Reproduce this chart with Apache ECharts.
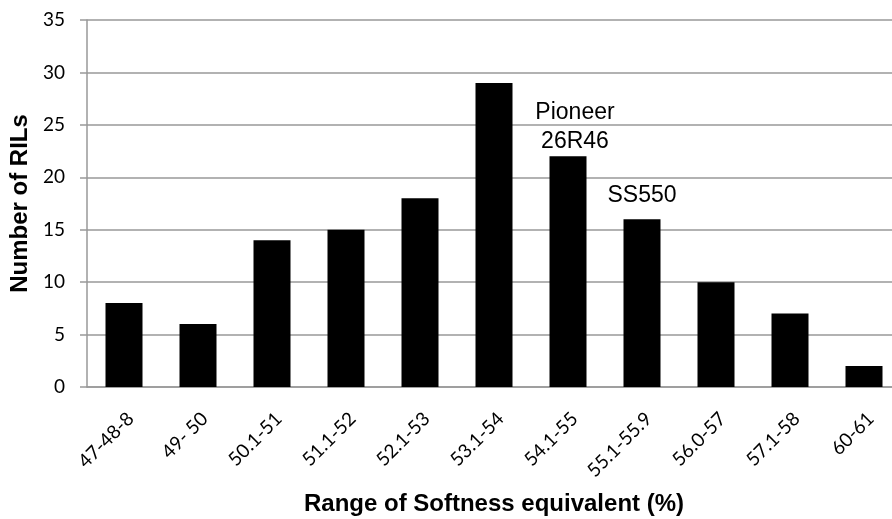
<!DOCTYPE html>
<html>
<head>
<meta charset="utf-8">
<script src="https://cdn.jsdelivr.net/npm/echarts@6/dist/echarts.min.js"></script>
<style>
  html, body { margin: 0; padding: 0; background: #fff; }
  #chart { width: 892px; height: 519px; }
</style>
</head>
<body>
<div id="chart"></div>
<script>
// categories and counts
var categories = ["47-48-8", "49- 50", "50.1-51", "51.1-52", "52.1-53", "53.1-54",
                  "54.1-55", "55.1-55.9", "56.0-57", "57.1-58", "60-61"];
var counts = [8, 6, 14, 15, 18, 29, 22, 16, 10, 7, 2];
// variety names written above two bars
var notes = ["", "", "", "", "", "", "Pioneer\n26R46", "SS550", "", "", ""];

var chart = echarts.init(document.getElementById("chart"));

var data = counts.map(function (v, i) {
  var item = { value: v };
  if (notes[i]) {
    item.label = {
      show: true,
      position: "top",
      formatter: notes[i],
      distance: i === 6 ? 0 : 9,
      offset: [i === 6 ? 7 : 0, 0],
      color: "#000",
      fontFamily: "Liberation Sans",
      fontSize: 23,
      lineHeight: 29
    };
  }
  return item;
});

chart.setOption({
  animation: false,
  // plot runs past the right edge of the picture, as in the original
  grid: { left: 87, top: 20, width: 814, bottom: 132, containLabel: false, outerBoundsMode: "none" },
  xAxis: {
    type: "category",
    data: categories,
    name: "Range of Softness equivalent (%)",
    nameLocation: "middle",
    nameGap: 105,
    nameTextStyle: { fontFamily: "Liberation Sans", fontWeight: "bold", fontSize: 24, color: "#000" },
    axisLine: { lineStyle: { color: "#999", width: 1.5 } },
    axisTick: { show: false },
    axisLabel: {
      rotate: 45, margin: 22, verticalAlign: "top",
      fontFamily: "Lato", fontSize: 19, color: "#000", interval: 0
    }
  },
  yAxis: {
    type: "value",
    min: 0,
    max: 35,
    interval: 5,
    name: "Number of RILs",
    nameLocation: "middle",
    nameGap: 53,
    nameTextStyle: { fontFamily: "Liberation Sans", fontWeight: "bold", fontSize: 24, color: "#000" },
    axisLine: { show: true, lineStyle: { color: "#999", width: 1.5 } },
    axisTick: { show: true, length: 7, lineStyle: { color: "#999", width: 1.5 } },
    axisLabel: { margin: 22, fontFamily: "Lato", fontSize: 19, color: "#000" },
    splitLine: { lineStyle: { color: "#999", width: 1.5 } }
  },
  series: [{
    type: "bar",
    data: data,
    barWidth: "50%",
    itemStyle: { color: "#000" }
  }]
});
</script>
</body>
</html>
